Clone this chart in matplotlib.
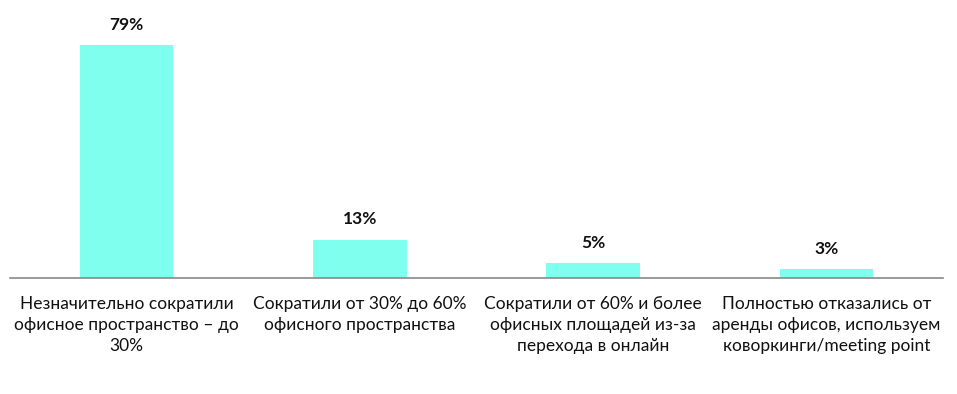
import matplotlib
matplotlib.use("Agg")
import matplotlib.pyplot as plt

categories = [
    "Незначительно сократили\nофисное пространство – до\n30%",
    "Сократили от 30% до 60%\nофисного пространства",
    "Сократили от 60% и более\nофисных площадей из-за\nперехода в онлайн",
    "Полностью отказались от\nаренды офисов, используем\nковоркинги/meeting point",
]
values = [79, 13, 5, 3]
labels = ["79%", "13%", "5%", "3%"]

plt.rcParams['font.family'] = ['Lato', 'Noto Sans', 'DejaVu Sans']

fig = plt.figure(figsize=(9.57, 3.94), dpi=100)
ax = fig.add_axes([10 / 957, 116 / 394, 933 / 957, 278 / 394])

x = range(len(values))
ax.bar(x, values, width=0.4, color='#7FFFEE')
for xi, v, lab in zip(x, values, labels):
    ax.annotate(lab, (xi, v), xytext=(0, 9), textcoords='offset points',
                ha='center', va='bottom', fontsize=12.5, fontweight='bold', color='#111111')

ax.set_xlim(-0.5, len(values) - 0.5)
ax.set_ylim(0, 94.3)
ax.set_xticks(list(x))
ax.set_xticklabels(categories, fontsize=12.5, color='#111111', linespacing=1.4)
ax.tick_params(axis='x', length=0, pad=13)
ax.set_yticks([])
for s in ['top', 'right', 'left']:
    ax.spines[s].set_visible(False)
ax.spines['bottom'].set_color('#898989')
ax.spines['bottom'].set_linewidth(1.2)

fig.savefig("out.png", dpi=100)
